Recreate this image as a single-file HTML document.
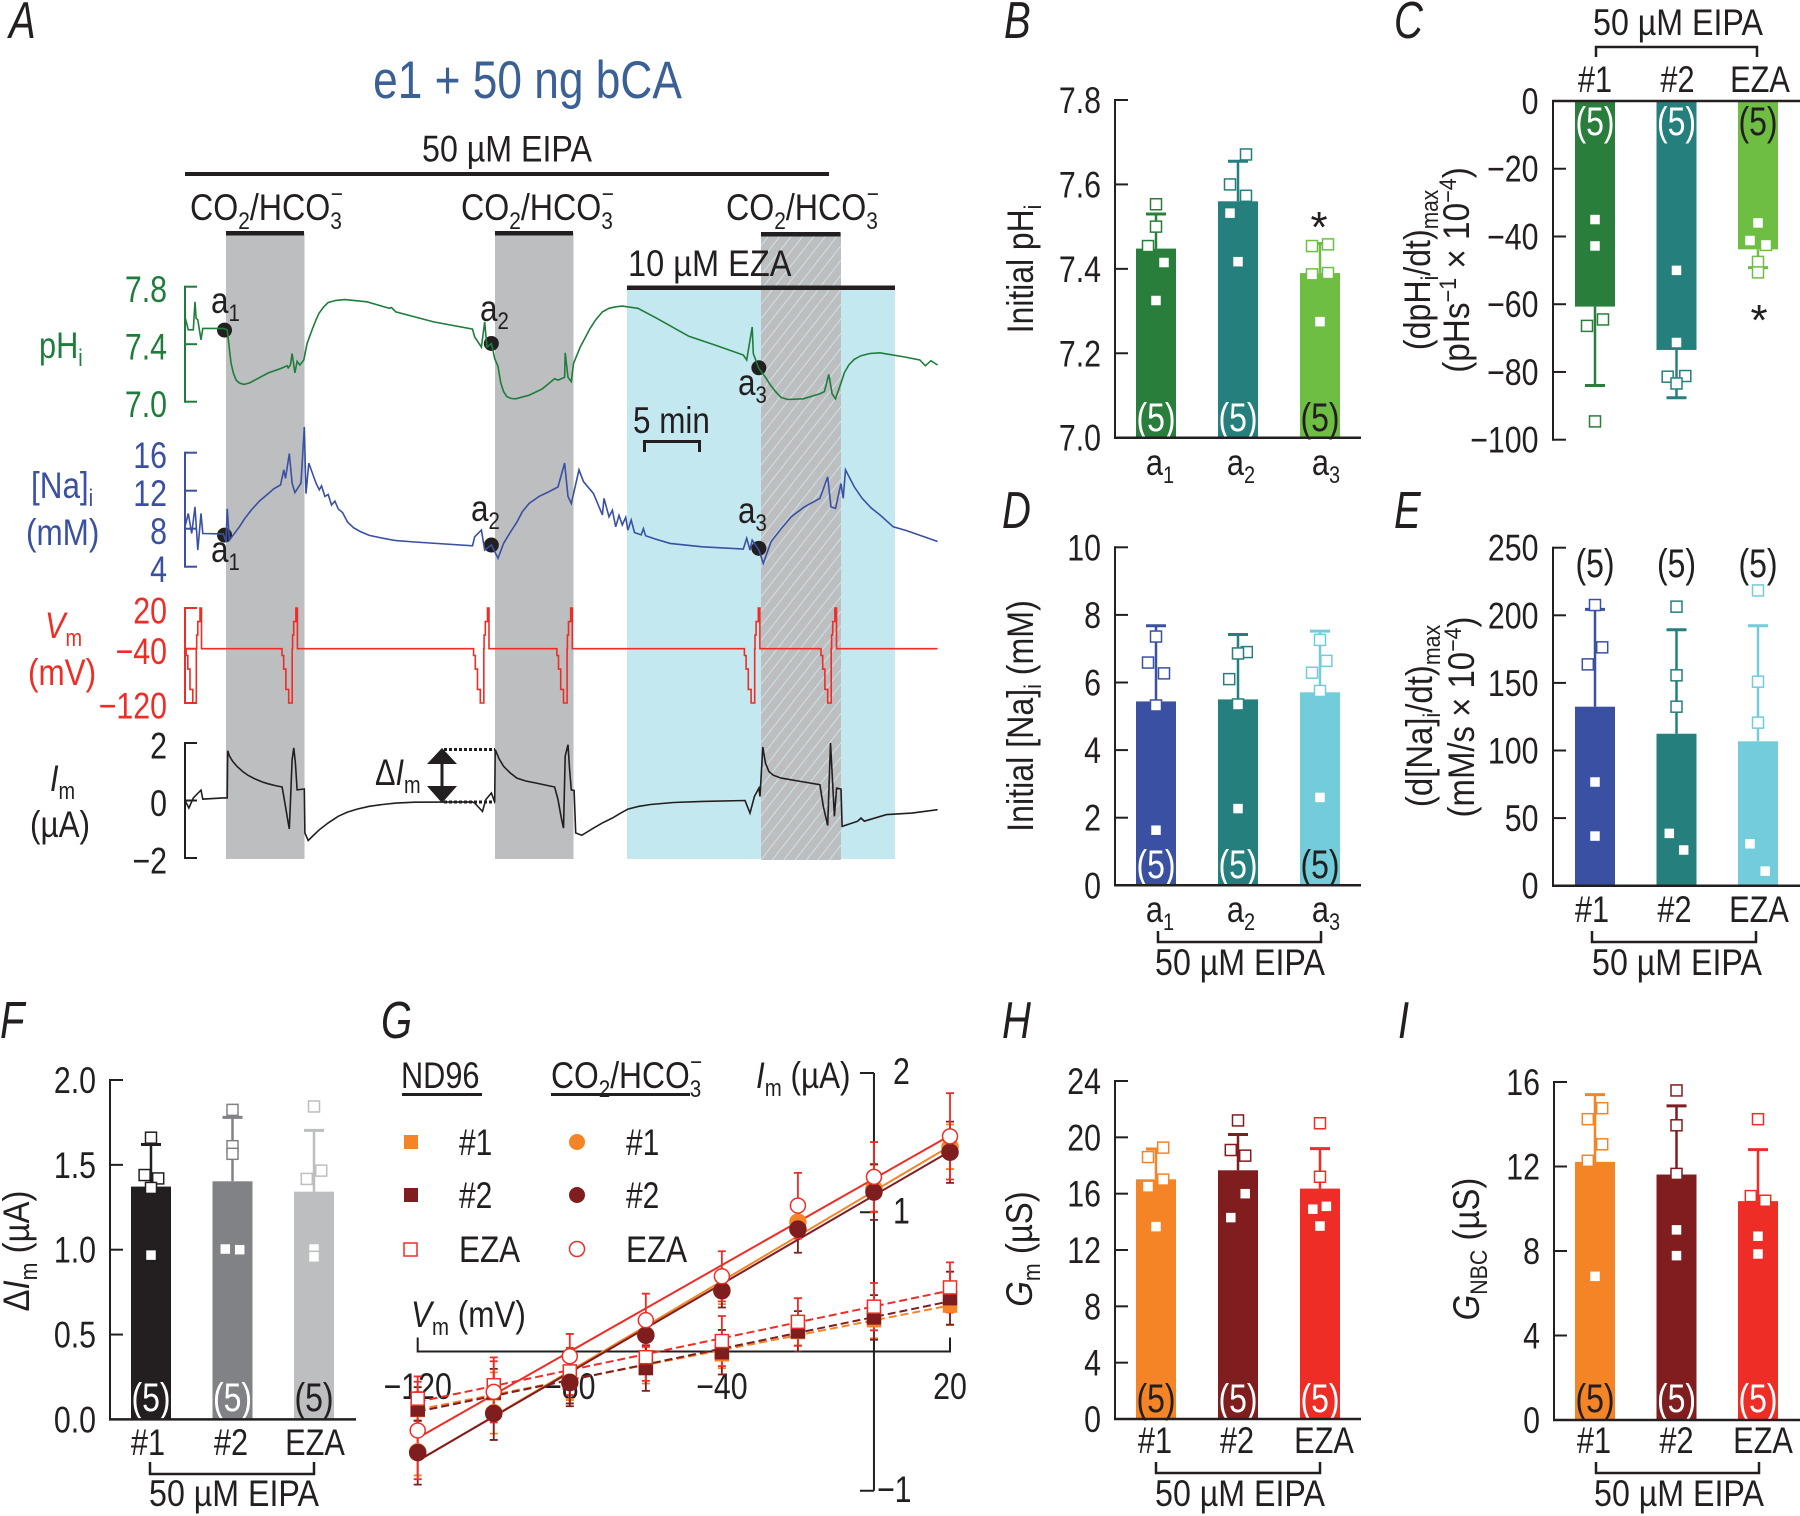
<!DOCTYPE html>
<html lang="en">
<head>
<meta charset="utf-8">
<title>e1 + 50 ng bCA</title>
<style>
html,body{margin:0;padding:0;background:#fff;}
svg{display:block;}
text{font-family:"Liberation Sans",sans-serif;font-size:37px;fill:#231f20;}
.pl{font-size:52px;font-style:italic;}
.s{font-size:24px;}
.g{fill:#1f7d3c;}
.b{fill:#3a50a2;}
.r{fill:#ee2d27;}
</style>
</head>
<body>
<svg id="fig" xmlns="http://www.w3.org/2000/svg" width="1800" height="1516" viewBox="0 0 1800 1516">
<defs>
<pattern id="hatch" patternUnits="userSpaceOnUse" width="9" height="14" patternTransform="rotate(38)">
<rect width="9" height="14" fill="#bcbec0"/>
<line x1="4" y1="0" x2="4" y2="14" stroke="#cfe1e7" stroke-width="1"/>
</pattern>
</defs>
<rect width="1800" height="1516" fill="#fff"/>

<!-- panel letters -->
<text class="pl" transform="translate(9 38) scale(.77 1)">A</text>
<text class="pl" transform="translate(1004 38) scale(.77 1)">B</text>
<text class="pl" transform="translate(1394 38) scale(.77 1)">C</text>
<text class="pl" transform="translate(1002 528) scale(.77 1)">D</text>
<text class="pl" transform="translate(1394 528) scale(.77 1)">E</text>
<text class="pl" transform="translate(0 1038) scale(.77 1)">F</text>
<text class="pl" transform="translate(381 1038) scale(.77 1)">G</text>
<text class="pl" transform="translate(1002 1038) scale(.77 1)">H</text>
<text class="pl" transform="translate(1398 1038) scale(.77 1)">I</text>

<!-- panel A background -->
<g>
<rect x="226" y="233" width="78.5" height="626" fill="#bcbec0"/>
<rect x="495" y="233" width="78.5" height="626" fill="#bcbec0"/>
<rect x="627" y="287" width="268" height="572" fill="#c4e8ef"/>
<rect x="761" y="233" width="80" height="627" fill="url(#hatch)"/>
</g>
<text text-anchor="middle" style="font-size:53px;fill:#3a6095" transform="translate(527.5 98) scale(.835 1)">e1 + 50 ng bCA</text>
<text text-anchor="middle" transform="translate(507 161.5) scale(.87 1)">50 µM EIPA</text>
<rect x="185" y="172" width="644" height="4" fill="#231f20"/>
<g fill="#231f20">
<rect x="226" y="231" width="78" height="4.5"/>
<rect x="495" y="231" width="78" height="4.5"/>
<rect x="761" y="232" width="79.5" height="4.5"/>
<rect x="627" y="285.5" width="268" height="4.5"/>
</g>
<text transform="translate(190 220) scale(.87 1)">CO<tspan class="s" dy="9">2</tspan><tspan dy="-9">/HCO</tspan><tspan class="s" dy="9">3</tspan><tspan class="s" dx="-13" dy="-27">−</tspan></text>
<text transform="translate(461 220) scale(.87 1)">CO<tspan class="s" dy="9">2</tspan><tspan dy="-9">/HCO</tspan><tspan class="s" dy="9">3</tspan><tspan class="s" dx="-13" dy="-27">−</tspan></text>
<text transform="translate(726 220) scale(.87 1)">CO<tspan class="s" dy="9">2</tspan><tspan dy="-9">/HCO</tspan><tspan class="s" dy="9">3</tspan><tspan class="s" dx="-13" dy="-27">−</tspan></text>
<text transform="translate(628 276) scale(.88 1)">10 µM EZA</text>

<text class="g" transform="translate(39 358) scale(.83 1)">pH<tspan class="s g" dy="8">i</tspan></text>
<text class="b" transform="translate(31 498) scale(.85 1)">[Na]<tspan class="s b" dy="8">i</tspan></text>
<text class="b" transform="translate(26 545) scale(.85 1)">(mM)</text>
<text class="r" transform="translate(45 638) scale(.83 1)"><tspan font-style="italic">V</tspan><tspan class="s r" dy="8">m</tspan></text>
<text class="r" transform="translate(28 685) scale(.85 1)">(mV)</text>
<text transform="translate(50 791) scale(.83 1)"><tspan font-style="italic">I</tspan><tspan class="s" dy="8">m</tspan></text>
<text transform="translate(30 837) scale(.85 1)">(µA)</text>

<g id="panelA"></g>

<text transform="translate(211 313) scale(.85 1)">a<tspan class="s" dy="8">1</tspan></text>
<text transform="translate(480 321) scale(.85 1)">a<tspan class="s" dy="8">2</tspan></text>
<text transform="translate(738 395) scale(.85 1)">a<tspan class="s" dy="8">3</tspan></text>
<text transform="translate(211 562) scale(.85 1)">a<tspan class="s" dy="8">1</tspan></text>
<text transform="translate(471 521) scale(.85 1)">a<tspan class="s" dy="8">2</tspan></text>
<text transform="translate(738 523) scale(.85 1)">a<tspan class="s" dy="8">3</tspan></text>

<text transform="translate(633 433) scale(.85 1)">5 min</text>
<path d="M644.500 452V441.500H699.500V452" fill="none" stroke="#231f20" stroke-width="3"/>

<g>
<text transform="translate(375 785) scale(.83 1)">Δ<tspan font-style="italic">I</tspan><tspan class="s" dy="8">m</tspan></text>
<line x1="442" y1="760" x2="442" y2="790" stroke="#231f20" stroke-width="3"/>
<polygon points="442,748 457,764 427,764" fill="#231f20"/>
<polygon points="442,803 457,786 427,786" fill="#231f20"/>
<line x1="444" y1="749.500" x2="495" y2="749.500" stroke="#231f20" stroke-width="3" stroke-dasharray="3 2"/>
<line x1="444" y1="802" x2="495" y2="802" stroke="#231f20" stroke-width="3" stroke-dasharray="3 2"/>
</g>

<!-- bar chart groups -->
<g id="panelB"></g>
<g id="panelC"></g>
<g id="panelD"></g>
<g id="panelE"></g>
<g id="panelF"></g>
<g id="panelG"></g>
<g id="panelH"></g>
<g id="panelI"></g>

<!-- y titles -->
<text text-anchor="middle" transform="translate(1033 269) rotate(-90) scale(.86 1)">Initial pH<tspan class="s" dy="8">i</tspan></text>
<text text-anchor="middle" transform="translate(1430 270) rotate(-90) scale(.87 1)">(dpH<tspan class="s" dy="8">i</tspan><tspan dy="-8">/dt)</tspan><tspan class="s" dy="8">max</tspan></text>
<text text-anchor="middle" transform="translate(1469 270) rotate(-90) scale(.9 1)">(pHs<tspan class="s" dy="-13">−1</tspan><tspan dy="13"> × 10</tspan><tspan class="s" dy="-13">−4</tspan><tspan dy="13">)</tspan></text>
<text text-anchor="middle" transform="translate(1033 716) rotate(-90) scale(.87 1)">Initial [Na]<tspan class="s" dy="8">i</tspan><tspan dy="-8"> (mM)</tspan></text>
<text text-anchor="middle" transform="translate(1432 716) rotate(-90) scale(.89 1)">(d[Na]<tspan class="s" dy="8">i</tspan><tspan dy="-8">/dt)</tspan><tspan class="s" dy="8">max</tspan></text>
<text text-anchor="middle" transform="translate(1474 717) rotate(-90) scale(.89 1)">(mM/s × 10<tspan class="s" dy="-13">−4</tspan><tspan dy="13">)</tspan></text>
<text text-anchor="middle" transform="translate(29 1251) rotate(-90) scale(.89 1)">Δ<tspan font-style="italic">I</tspan><tspan class="s" dy="8">m</tspan><tspan dy="-8"> (µA)</tspan></text>
<text text-anchor="middle" transform="translate(1032 1249) rotate(-90) scale(.89 1)"><tspan font-style="italic">G</tspan><tspan class="s" dy="8">m</tspan><tspan dy="-8"> (µS)</tspan></text>
<text text-anchor="middle" transform="translate(1479 1249) rotate(-90) scale(.89 1)"><tspan font-style="italic">G</tspan><tspan class="s" dy="8">NBC</tspan><tspan dy="-8"> (µS)</tspan></text>

<!-- brackets and EIPA labels -->
<g fill="none" stroke="#231f20" stroke-width="2.500">
<path d="M1596 57V47H1757V57"/>
<path d="M1158 931V942H1321V931"/>
<path d="M1592 931V942H1756V931"/>
<path d="M150 1462V1474H314V1462"/>
<path d="M1156 1462V1473H1320V1462"/>
<path d="M1596 1462V1473H1759V1462"/>
</g>
<text text-anchor="middle" transform="translate(1678 35) scale(.87 1)">50 µM EIPA</text>
<text text-anchor="middle" transform="translate(1240 975) scale(.87 1)">50 µM EIPA</text>
<text text-anchor="middle" transform="translate(1677 975) scale(.87 1)">50 µM EIPA</text>
<text text-anchor="middle" transform="translate(234 1506) scale(.87 1)">50 µM EIPA</text>
<text text-anchor="middle" transform="translate(1240 1506) scale(.87 1)">50 µM EIPA</text>
<text text-anchor="middle" transform="translate(1679 1506) scale(.87 1)">50 µM EIPA</text>
<text text-anchor="middle" style="font-size:44px" transform="translate(1319 242)">*</text>
<text text-anchor="middle" style="font-size:44px" transform="translate(1759 335)">*</text>

<!-- G legend and titles -->
<g>
<text transform="translate(401 1088) scale(.83 1)">ND96</text>
<rect x="402" y="1093" width="80" height="3" fill="#231f20"/>
<text transform="translate(551 1088) scale(.86 1)">CO<tspan class="s" dy="9">2</tspan><tspan dy="-9">/HCO</tspan><tspan class="s" dy="9">3</tspan><tspan class="s" dx="-13" dy="-27">−</tspan></text>
<rect x="551" y="1093" width="139" height="3" fill="#231f20"/>
<rect x="404" y="1135" width="14" height="14" fill="#f58427"/>
<rect x="404" y="1188" width="14" height="14" fill="#7f1d1f"/>
<rect x="404" y="1243" width="13" height="13" fill="#fff" stroke="#ee2d27" stroke-width="1.500"/>
<circle cx="577" cy="1142" r="8" fill="#f58427"/>
<circle cx="577" cy="1195" r="8" fill="#7f1d1f"/>
<circle cx="577" cy="1249" r="7.500" fill="#fff" stroke="#ee2d27" stroke-width="1.500"/>
<text transform="translate(459 1155) scale(.81 1)">#1</text>
<text transform="translate(459 1208) scale(.81 1)">#2</text>
<text transform="translate(459 1262) scale(.85 1)">EZA</text>
<text transform="translate(626 1155) scale(.81 1)">#1</text>
<text transform="translate(626 1208) scale(.81 1)">#2</text>
<text transform="translate(626 1262) scale(.85 1)">EZA</text>
</g>
<text transform="translate(756 1088) scale(.85 1)"><tspan font-style="italic">I</tspan><tspan class="s" dy="8">m</tspan><tspan dy="-8"> (µA)</tspan></text>
<text transform="translate(411 1327) scale(.85 1)"><tspan font-style="italic">V</tspan><tspan class="s" dy="8">m</tspan><tspan dy="-8"> (mV)</tspan></text>
</svg>

<script>
const phTrace = [[0,7.59],[.2,7.53],[.3,7.5],[.75,7.5],[.9,7.695],[1,7.58],[1.15,7.57],[1.44,7.43],[1.6,7.51],[3.45,7.51],[3.8,7.5],[4.14,7.27],[4.35,7.2],[4.6,7.15],[4.9,7.13],[5.3,7.12],[5.8,7.13],[6.3,7.15],[7.5,7.2],[8.6,7.23],[9.2,7.25],[9.3,7.235],[9.5,7.255],[9.65,7.335],[9.9,7.2],[10.1,7.28],[10.35,7.255],[10.7,7.29],[11,7.405],[11.5,7.51],[11.8,7.57],[12.07,7.615],[12.5,7.66],[12.9,7.69],[13.6,7.705],[14.4,7.71],[16.4,7.695],[18.4,7.65],[18.6,7.655],[19,7.625],[22.4,7.555],[25.9,7.505],[26.1,7.45],[26.7,7.38],[27,7.555],[27.2,7.38],[27.6,7.405],[27.9,7.3],[28.2,7.245],[28.45,7.13],[28.7,7.07],[29,7.035],[29.4,7.022],[29.8,7.02],[31,7.045],[32.2,7.09],[33.3,7.16],[33.6,7.15],[34.2,7.17],[34.25,7.34],[34.5,7.17],[34.8,7.14],[35,7.265],[35.6,7.38],[36.5,7.51],[37,7.57],[37.6,7.625],[38.2,7.65],[38.8,7.66],[39.4,7.665],[40.8,7.65],[42.5,7.58],[45.4,7.455],[47.7,7.395],[50.3,7.325],[50.6,7.29],[51.1,7.52],[51.2,7.335],[51.7,7.23],[52.3,7.17],[52.7,7.12],[53.2,7.07],[53.7,7.03],[54.3,7.015],[55.7,7.02],[57.2,7.055],[57.6,7.07],[58,7.19],[58.3,7.055],[58.6,7.02],[59.1,7.13],[59.4,7.2],[59.8,7.255],[60.3,7.295],[60.9,7.32],[61.7,7.335],[62.6,7.34],[64.9,7.31],[66.2,7.29],[66.7,7.25],[67.2,7.285],[67.8,7.255]];
const naTrace = [[0,8.2],[.3,9.6],[.6,7.5],[.9,10.3],[1.15,5.75],[1.44,9.6],[1.6,7.5],[3.45,7.45],[3.7,6.6],[3.8,10.1],[4,6.8],[4.9,8.2],[5.4,9.1],[6,10],[6.7,10.9],[7.5,11.7],[8,12.2],[8.6,12.6],[8.9,14.2],[9.05,13.3],[9.4,15.9],[9.65,12.8],[9.9,11.8],[10.45,12.8],[10.75,18.7],[10.9,11.7],[11.15,14.9],[11.8,12.8],[12.1,12.1],[12.3,12.5],[12.6,11.4],[12.9,11.6],[13.2,10.5],[13.5,10.9],[13.8,10.1],[14.2,9.7],[14.65,8.7],[15.2,8.1],[15.8,7.7],[16.6,7.3],[17.8,7],[19,6.75],[20.7,6.6],[25.9,6.2],[26.1,7.15],[26.7,7.85],[27,5.75],[27.6,6.3],[28.2,4.9],[28.7,6.45],[29.3,7.6],[29.9,8.7],[30.4,9.8],[31,10.65],[31.9,11.4],[32.8,11.9],[33.6,12.4],[34.2,14.9],[34.5,11.4],[34.8,10.65],[35.5,14.2],[35.9,12.95],[36.8,11.7],[37.6,9.45],[37.75,11.2],[38.2,9.25],[38.5,9.95],[38.8,8.2],[39.1,9.4],[39.4,8.4],[39.7,9.2],[39.9,7.85],[40.2,8.9],[40.5,7.6],[41.1,7.35],[41.3,8],[41.5,7.25],[42.4,6.9],[43.7,6.45],[46.6,6.1],[50.3,5.85],[50.6,7],[50.9,5.75],[51.1,6.8],[51.7,5.75],[52.1,4.35],[52.8,6.65],[53.7,8],[54.6,9.25],[55.8,10.3],[57.2,11.2],[57.9,13.45],[58.2,10.3],[58.6,10.15],[59.1,12.75],[59.3,11.2],[59.5,14.2],[60.3,12.4],[61,11.2],[61.8,10.2],[62.6,9.45],[63.8,8.2],[65,7.8],[66.1,7.35],[67.8,6.65]];
const imTrace = [[0,0],[.35,-.26],[.75,.09],[1.44,.36],[1.6,.05],[3.45,.09],[3.8,.09],[3.85,1.73],[4,1.55],[4.3,1.36],[4.7,1.18],[5.2,1.01],[5.7,.87],[6.3,.75],[7,.64],[7.5,.58],[8.1,.52],[8.75,.47],[8.9,.14],[9.2,-.55],[9.4,-.99],[9.5,-.09],[9.65,1.42],[9.8,1.83],[9.95,1.3],[10.1,.37],[10.75,.4],[10.8,-1.13],[11.1,-1.39],[11.6,-1.2],[12.1,-1.02],[12.9,-.78],[13.8,-.55],[14.6,-.41],[15.5,-.3],[16.6,-.2],[17.8,-.14],[19,-.09],[20.7,-.06],[25.9,-.05],[26.1,-.09],[26.8,-.38],[27.1,.03],[27.6,.26],[27.9,-.06],[27.95,1.77],[28.3,1.45],[28.7,1.19],[29.3,.96],[29.9,.78],[30.7,.68],[31.6,.61],[33.3,.47],[33.6,.03],[33.9,-.61],[34.1,-.96],[34.25,1.54],[34.5,1.94],[34.65,1.07],[34.8,.37],[35.05,.35],[35.2,-1.13],[35.75,-1.21],[36.8,-.96],[37.6,-.78],[38.5,-.61],[39.2,-.45],[39.9,-.3],[40.9,-.2],[41.95,-.14],[44,-.07],[46.6,-.03],[50.45,0],[50.9,-.44],[51.3,.14],[51.7,.43],[51.8,.14],[52.05,1.86],[52.3,1.3],[52.6,1.01],[53,.88],[53.7,.78],[55.5,.66],[57.2,.55],[57.5,-.2],[57.9,-.87],[58.15,2],[58.5,-.55],[58.7,.43],[59.1,.4],[59.2,-.9],[60.6,-.72],[60.9,-.61],[61.2,-.72],[63.2,-.49],[65.5,-.44],[67.8,-.32]];
const vmBaseline = -40;
const vmEndTime = 67.8;
const vmPulseStarts = [.1,8.74,26,33.5,50.4,57.3];
const vmStepOffsets = [0,.15,.35,.6,.75,.92,.95,1.05,1.25,1.39];
const vmStepLevels = [-50,-70,-100,-120,-120,-40,-20,0,20,-40];
const phMarkerTimes = [3.56,27.6,51.7];
const phMarkerValues = [7.498,7.405,7.236];
const naMarkerTimes = [3.56,27.6,51.7];
const naMarkerValues = [7.33,6.28,5.93];
const phTicks = [7.8,7.4,7.0];
const phTickLabels = ['7.8','7.4','7.0'];
const naTicks = [16,12,8,4];
const naTickLabels = ['16','12','8','4'];
const vmTicks = [20,-40,-120];
const vmTickLabels = ['20','−40','−120'];
const imTicks = [2,0,-2];
const imTickLabels = ['2','0','−2'];

/* ---------- Panel B ---------- */
const bCategories = ['a1','a2','a3'];
const bMeans = [7.448,7.56,7.39];
const bErrors = [.082,.095,.07];
const bPoints = [[7.553,7.5,7.454,7.415,7.325],[7.671,7.6,7.573,7.532,7.417],[7.454,7.458,7.387,7.39,7.275]];
const bJitter = [[0,0,-1,1,0],[1,-1,1,-1,0],[-1,1,-1,1,0]];
const bTicks = [7.0,7.2,7.4,7.6,7.8];
const bTickLabels = ['7.0','7.2','7.4','7.6','7.8'];
const bCounts = ['(5)','(5)','(5)'];

/* ---------- Panel C ---------- */
const cCategories = ['#1','#2','EZA'];
const cMeans = [-60.7,-73.5,-43.8];
const cErrors = [23.3,14.1,5.4];
const cPoints = [[-35,-42.8,-64.5,-66.4,-94.6],[-50,-71.3,-81.4,-81.2,-83.4],[-36,-41.2,-42.5,-47.5,-50.6]];
const cJitter = [[0,0,1,-1,0],[0,0,-1.1,1.1,0],[0,-1,1,0,0]];
const cTicks = [0,-20,-40,-60,-80,-100];
const cTickLabels = ['0','−20','−40','−60','−80','−100'];
const cCounts = ['(5)','(5)','(5)'];

/* ---------- Panel D ---------- */
const dCategories = ['a1','a2','a3'];
const dMeans = [5.44,5.5,5.71];
const dErrors = [2.24,1.92,1.81];
const dPoints = [[7.36,6.59,6.27,5.32,1.63],[6.9,6.86,6.1,5.35,2.27],[7.26,6.64,6.29,5.75,2.6]];
const dJitter = [[0,-1,1,0,0],[1.1,0,-1.1,0,0],[0,.8,-1,0,0]];
const dTicks = [0,2,4,6,8,10];
const dTickLabels = ['0','2','4','6','8','10'];
const dCounts = ['(5)','(5)','(5)'];

/* ---------- Panel E ---------- */
const eCategories = ['#1','#2','EZA'];
const eMeans = [132.4,112.4,106.8];
const eErrors = [72,76.9,85.5];
const ePoints = [[207.6,176.3,163.7,76.7,36.7],[206.4,155.6,132.4,38.7,26.4],[218.4,150.9,120.6,31,10.8]];
const eJitter = [[0,.9,-.9,0,0],[0,0,0,-.9,.9],[0,0,0,-1,.9]];
const eTicks = [0,50,100,150,200,250];
const eTickLabels = ['0','50','100','150','200','250'];
const eCounts = ['(5)','(5)','(5)'];

/* ---------- Panel F ---------- */
const fCategories = ['#1','#2','EZA'];
const fMeans = [1.372,1.403,1.342];
const fErrors = [.248,.377,.361];
const fPoints = [[1.66,1.44,1.42,1.364,.968],[1.824,1.61,1.565,1.004,1],[1.844,1.466,1.417,1.004,.958]];
const fJitter = [[0,-.8,.9,0,0],[0,0,0,-.9,.9],[0,.9,-.9,0,0]];
const fTicks = [0,.5,1,1.5,2];
const fTickLabels = ['0.0','0.5','1.0','1.5','2.0'];
const fCounts = ['(5)','(5)','(5)'];

/* ---------- Panel G ---------- */
const gVoltages = [-120,-100,-80,-60,-40,-20,0,20];
const gNd1 = [-.42,-.3,-.2,-.1,-.02,.14,.225,.33];
const gNd1Err = [.13,.15,.15,.13,.1,.1,.13,.14];
const gNd2 = [-.416,-.295,-.223,-.119,-.005,.145,.245,.383];
const gNd2Err = [.16,.17,.17,.164,.16,.145,.16,.19];
const gNdEza = [-.339,-.242,-.143,-.041,.075,.213,.322,.46];
const gNdEzaErr = [.16,.2,.17,.17,.18,.17,.17,.18];
const gCo1 = [-.72,-.44,-.22,.12,.44,.93,1.17,1.47];
const gCo1Err = [.17,.15,.12,.12,.1,.12,.17,.16];
const gCo2 = [-.726,-.445,-.223,.116,.436,.879,1.145,1.431];
const gCo2Err = [.23,.19,.15,.15,.12,.17,.2,.22];
const gCoEza = [-.567,-.29,-.034,.225,.54,1.048,1.254,1.545];
const gCoEzaErr = [.35,.22,.16,.19,.18,.235,.25,.31];
const gXTicks = [-120,-80,-40,20];
const gXTickLabels = ['−120','−80','−40','20'];
const gYTicks = [2,1,-1];
const gYTickLabels = ['2','1','−1'];

/* ---------- Panel H ---------- */
const hCategories = ['#1','#2','EZA'];
const hMeans = [17.02,17.66,16.36];
const hErrors = [2.15,2.54,2.84];
const hPoints = [[19.27,18.6,17,16.5,13.66],[21.2,19.1,18.7,16,14.3],[21,17.2,15.1,14.9,13.7]];
const hJitter = [[.9,-1,.9,-1,0],[0,-.9,.9,.9,-.9],[0,0,.8,-.9,0]];
const hTicks = [0,4,8,12,16,20,24];
const hTickLabels = ['0','4','8','12','16','20','24'];
const hCounts = ['(5)','(5)','(5)'];

/* ---------- Panel I ---------- */
const iCategories = ['#1','#2','EZA'];
const iMeans = [12.22,11.62,10.36];
const iErrors = [3.18,3.25,2.44];
const iPoints = [[14.76,14.24,13.05,12.27,6.8],[15.6,13.95,11.65,9,7.78],[14.24,10.6,10.38,8.7,7.86]];
const iJitter = [[.9,-.9,.9,-.9,0],[0,0,0,0,0],[0,-.9,.9,0,0]];
const iTicks = [0,4,8,12,16];
const iTickLabels = ['0','4','8','12','16'];
const iCounts = ['(5)','(5)','(5)'];

const NS = 'http://www.w3.org/2000/svg';
const INK = '#231f20';
function mk(parent, tag, attrs) {
  const el = document.createElementNS(NS, tag);
  for (const k in attrs) el.setAttribute(k, attrs[k]);
  parent.appendChild(el);
  return el;
}
function linear(v0, p0, v1, p1) {
  return v => p0 + (v - v0) * (p1 - p0) / (v1 - v0);
}

/* ---------- draw panel A ---------- */
(function drawA() {
  const g = document.getElementById('panelA');
  const xT = linear(0, 185, 10, 296);
  const yPh = linear(7, 401.7, 7.8, 286.7);
  const yNa = linear(4, 566.7, 16, 452.7);
  const yVm = linear(-120, 703, 20, 608);
  const yIm = linear(-2, 858, 2, 743);

  function bracket(name, ticks, labels, scale, color) {
    const ys = ticks.map(scale);
    const top = Math.min.apply(null, ys), bot = Math.max.apply(null, ys);
    const axis = mk(g, 'line', {x1:185, y1:top - 1, x2:185, y2:bot + 1, stroke:color, 'stroke-width':2});
    
    
    ticks.forEach((t, i) => {
      const tick = mk(g, 'line', {x1:185, y1:scale(t), x2:197, y2:scale(t), stroke:color, 'stroke-width':2});
      
      
      const lab = mk(g, 'text', {'text-anchor':'end', transform:'translate(167 ' + (scale(t) + 15.5) + ') scale(.82 1)', style:'fill:' + color});
      lab.textContent = labels[i];
      
      
    });
  }
  bracket('ph', phTicks, phTickLabels, yPh, '#1f7d3c');
  bracket('na', naTicks, naTickLabels, yNa, '#3a50a2');
  bracket('vm', vmTicks, vmTickLabels, yVm, '#ee2d27');
  bracket('im', imTicks, imTickLabels, yIm, INK);

  phMarkerTimes.forEach((t, i) => {
    const c = mk(g, 'circle', {cx:xT(t), cy:yPh(phMarkerValues[i]), r:7.5, fill:INK});
    
    
  });
  naMarkerTimes.forEach((t, i) => {
    const c = mk(g, 'circle', {cx:xT(t), cy:yNa(naMarkerValues[i]), r:7.5, fill:INK});
    
    
  });

  function pathOf(pts, scale) {
    return pts.map((p, i) => (i ? 'L' : 'M') + xT(p[0]).toFixed(1) + ' ' + scale(p[1]).toFixed(1)).join('');
  }
  const ph = mk(g, 'path', {d:pathOf(phTrace, yPh), fill:'none', stroke:'#1f7d3c', 'stroke-width':1.6});
  
  
  const na = mk(g, 'path', {d:pathOf(naTrace, yNa), fill:'none', stroke:'#3a50a2', 'stroke-width':1.6});
  
  

  const vmPts = [];
  vmPulseStarts.forEach(start => {
    vmStepOffsets.forEach((off, i) => {
      const prev = vmPts.length ? vmPts[vmPts.length - 1][1] : vmBaseline;
      vmPts.push([start + off, i === 0 ? vmBaseline : prev]);
      vmPts.push([start + off, vmStepLevels[i]]);
    });
  });
  vmPts.push([vmEndTime, vmBaseline]);
  const vm = mk(g, 'path', {d:pathOf(vmPts, yVm), fill:'none', stroke:'#ee2d27', 'stroke-width':1.6});
  
  

  const im = mk(g, 'path', {d:pathOf(imTrace, yIm), fill:'none', stroke:INK, 'stroke-width':1.6});
  
  
})();

/* ---------- generic bar panel ---------- */
function barPanel(id, o) {
  const g = document.getElementById(id);
  const y = linear(o.vLow, o.yLow, o.vHigh, o.yHigh);
  const baseY = y(o.base);
  const axis = mk(g, 'line', {x1:o.axisX, y1:y(o.vHigh) - 1, x2:o.axisX, y2:y(o.vLow) + 1, stroke:INK, 'stroke-width':2});
  
  
  o.ticks.forEach((t, i) => {
    const tick = mk(g, 'line', {x1:o.axisX, y1:y(t), x2:o.axisX + 13, y2:y(t), stroke:INK, 'stroke-width':2});
    
    
    const lab = mk(g, 'text', {'text-anchor':'end', transform:'translate(' + o.labelRight + ' ' + (y(t) + 13) + ') scale(.82 1)'});
    lab.textContent = o.tickLabels[i];
    
    
  });
  o.means.forEach((m, i) => {
    const cx = o.centers[i], col = o.colors[i];
    const top = Math.min(y(m), baseY), h = Math.abs(y(m) - baseY);
    const bar = mk(g, 'rect', {x:cx - o.barW / 2, y:top, width:o.barW, height:h, fill:col});
    
    
    const dir = m >= o.base ? 1 : -1;
    const tip = y(m + dir * o.errors[i]);
    const stem = mk(g, 'line', {x1:cx, y1:y(m), x2:cx, y2:tip, stroke:col, 'stroke-width':2.5});
    
    
    const cap = mk(g, 'line', {x1:cx - 10, y1:tip, x2:cx + 10, y2:tip, stroke:col, 'stroke-width':3});
    
    
    o.points[i].forEach((p, k) => {
      const sq = mk(g, 'rect', {x:cx + o.jitter[i][k] * 8 - 5.5, y:y(p) - 5.5, width:11, height:11, fill:'#fff', stroke:col, 'stroke-width':1.5});
      
      
    });
    const nCol = (o.countColors && o.countColors[i]) || INK;
    const n = mk(g, 'text', {'text-anchor':'middle', transform:'translate(' + cx + ' ' + o.countY + ') scale(.8 1)', style:'font-size:40px;fill:' + nCol});
    n.textContent = o.counts[i];
    
    
    const catStr = o.categories[i];
    const cat = mk(g, 'text', {'text-anchor':'middle', transform:'translate(' + (cx + o.catDx[i]) + ' ' + o.catY + ') scale(.83 1)'});
    
    
    if (/^a\d$/.test(catStr)) {
      cat.appendChild(document.createTextNode('a'));
      const sub = mk(cat, 'tspan', {'class':'s', dy:8});
      sub.textContent = catStr.charAt(1);
    } else {
      cat.textContent = catStr;
    }
  });
  const baseline = mk(g, 'line', {x1:o.axisX - 1, y1:baseY, x2:o.lineEnd, y2:baseY, stroke:INK, 'stroke-width':2.5});
  
  
}

const LEFT_COL = [1156,1238,1320];
const RIGHT_COL = [1595,1676.5,1758];
const WHITE2DARK = ['#fff','#fff',INK];

barPanel('panelB', {categories:bCategories, means:bMeans, errors:bErrors, points:bPoints, jitter:bJitter, ticks:bTicks, tickLabels:bTickLabels, counts:bCounts,
  vLow:7, yLow:437.7, vHigh:7.8, yHigh:100, base:7, axisX:1115, lineEnd:1361, labelRight:1101, centers:LEFT_COL, barW:40,
  colors:['#2a7e3c','#247f7d','#6fbe44'], countColors:WHITE2DARK, countY:431, catDx:[4,3,6], catY:475});
barPanel('panelC', {categories:cCategories, means:cMeans, errors:cErrors, points:cPoints, jitter:cJitter, ticks:cTicks, tickLabels:cTickLabels, counts:cCounts,
  vLow:-100, yLow:439.7, vHigh:0, yHigh:101, base:0, axisX:1553, lineEnd:1800, labelRight:1538.5, centers:RIGHT_COL, barW:40,
  colors:['#2a7e3c','#247f7d','#6fbe44'], countColors:WHITE2DARK, countY:135, catDx:[0,1,2], catY:92});
barPanel('panelD', {categories:dCategories, means:dMeans, errors:dErrors, points:dPoints, jitter:dJitter, ticks:dTicks, tickLabels:dTickLabels, counts:dCounts,
  vLow:0, yLow:885.3, vHigh:10, yHigh:547.3, base:0, axisX:1115, lineEnd:1361, labelRight:1101, centers:LEFT_COL, barW:40,
  colors:['#3a50a2','#247f7d','#73ccd9'], countColors:WHITE2DARK, countY:878, catDx:[4,3,6], catY:922});
barPanel('panelE', {categories:eCategories, means:eMeans, errors:eErrors, points:ePoints, jitter:eJitter, ticks:eTicks, tickLabels:eTickLabels, counts:eCounts,
  vLow:0, yLow:885.7, vHigh:250, yHigh:547.7, base:0, axisX:1553, lineEnd:1800, labelRight:1538.5, centers:RIGHT_COL, barW:40,
  colors:['#3a50a2','#247f7d','#73ccd9'], countColors:[INK,INK,INK], countY:577, catDx:[-3,-2,1], catY:922});
barPanel('panelF', {categories:fCategories, means:fMeans, errors:fErrors, points:fPoints, jitter:fJitter, ticks:fTicks, tickLabels:fTickLabels, counts:fCounts,
  vLow:0, yLow:1419.4, vHigh:2, yHigh:1080, base:0, axisX:110, lineEnd:356, labelRight:96, centers:[151,232.5,314], barW:40,
  colors:[INK,'#808285','#bcbec0'], countColors:WHITE2DARK, countY:1411, catDx:[-3,-1.5,1], catY:1455});
barPanel('panelH', {categories:hCategories, means:hMeans, errors:hErrors, points:hPoints, jitter:hJitter, ticks:hTicks, tickLabels:hTickLabels, counts:hCounts,
  vLow:0, yLow:1419, vHigh:24, yHigh:1081, base:0, axisX:1115, lineEnd:1361, labelRight:1101, centers:LEFT_COL, barW:40,
  colors:['#f58427','#7f1d1f','#ee2d27'], countColors:[INK,'#fff','#fff'], countY:1412, catDx:[-1,-1,4], catY:1453});
barPanel('panelI', {categories:iCategories, means:iMeans, errors:iErrors, points:iPoints, jitter:iJitter, ticks:iTicks, tickLabels:iTickLabels, counts:iCounts,
  vLow:0, yLow:1420, vHigh:16, yHigh:1082, base:0, axisX:1554, lineEnd:1800, labelRight:1540, centers:RIGHT_COL, barW:40,
  colors:['#f58427','#7f1d1f','#ee2d27'], countColors:[INK,'#fff','#fff'], countY:1412, catDx:[-1,0,5], catY:1453});

/* ---------- panel G ---------- */
(function drawG() {
  const g = document.getElementById('panelG');
  const xV = linear(-120, 417.7, 20, 950);
  const yI = linear(0, 1351.5, 2, 1073);
  const xAxis = mk(g, 'path', {d:'M' + xV(-120) + ' ' + (yI(0) - 14) + 'V' + yI(0) + 'H' + xV(20) + 'V' + (yI(0) - 14), fill:'none', stroke:INK, 'stroke-width':2});
  
  
  const yAxis = mk(g, 'line', {x1:xV(0), y1:yI(2), x2:xV(0), y2:yI(-1), stroke:INK, 'stroke-width':2});
  
  
  gXTicks.forEach((t, i) => {
    const lab = mk(g, 'text', {'text-anchor':'middle', transform:'translate(' + xV(t) + ' 1399) scale(.82 1)'});
    lab.textContent = gXTickLabels[i];
    
    
  });
  gYTicks.forEach((t, i) => {
    const tick = mk(g, 'line', {x1:xV(0) - 14, y1:yI(t), x2:xV(0), y2:yI(t), stroke:INK, 'stroke-width':2});
    
    
    const lab = mk(g, 'text', {transform:'translate(' + (xV(0) + (t < 0 ? 3 : 19)) + ' ' + (yI(t) + 11) + ') scale(.82 1)'});
    lab.textContent = gYTickLabels[i];
    
    
  });

  function fit(vals) {
    const n = gVoltages.length;
    const mx = gVoltages.reduce((a, b) => a + b, 0) / n;
    const my = vals.reduce((a, b) => a + b, 0) / n;
    let sxy = 0, sxx = 0;
    gVoltages.forEach((x, i) => { sxy += (x - mx) * (vals[i] - my); sxx += (x - mx) * (x - mx); });
    const m = sxy / sxx;
    return x => my + m * (x - mx);
  }
  const first = gVoltages[0], last = gVoltages[gVoltages.length - 1];
  function series(name, vals, errs, col, dashed) {
    const f = fit(vals);
    const ln = mk(g, 'line', {x1:xV(first), y1:yI(f(first)), x2:xV(last), y2:yI(f(last)), stroke:col, 'stroke-width':2, 'stroke-dasharray':dashed ? '8 4' : 'none'});
    
    
    vals.forEach((v, i) => {
      const x = xV(gVoltages[i]);
      const e = mk(g, 'path', {d:'M' + (x - 4) + ' ' + yI(v + errs[i]) + 'H' + (x + 4) + 'M' + x + ' ' + yI(v + errs[i]) + 'V' + yI(v - errs[i]) + 'M' + (x - 4) + ' ' + yI(v - errs[i]) + 'H' + (x + 4), fill:'none', stroke:col, 'stroke-width':1.8});
      
      
    });
  }
  function markers(name, vals, col, kind, filled) {
    vals.forEach((v, i) => {
      const x = xV(gVoltages[i]), y = yI(v);
      let m;
      if (kind === 'sq') {
        m = mk(g, 'rect', {x:x - 6.5, y:y - 6.5, width:13, height:13, fill:filled ? col : '#fff', stroke:col, 'stroke-width':1.5});
      } else {
        m = mk(g, 'circle', {cx:x, cy:y, r:filled ? 8 : 7.5, fill:filled ? col : '#fff', stroke:col, 'stroke-width':1.5});
      }
      
      
    });
  }
  const ORANGE = '#f58427', DARK = '#7f1d1f', RED = '#ee2d27';
  series('nd96-1', gNd1, gNd1Err, ORANGE, true);
  series('nd96-2', gNd2, gNd2Err, DARK, true);
  series('nd96-eza', gNdEza, gNdEzaErr, RED, true);
  series('co2-1', gCo1, gCo1Err, ORANGE, false);
  series('co2-2', gCo2, gCo2Err, DARK, false);
  series('co2-eza', gCoEza, gCoEzaErr, RED, false);
  markers('nd96-1', gNd1, ORANGE, 'sq', true);
  markers('nd96-2', gNd2, DARK, 'sq', true);
  markers('nd96-eza', gNdEza, RED, 'sq', false);
  markers('co2-1', gCo1, ORANGE, 'c', true);
  markers('co2-2', gCo2, DARK, 'c', true);
  markers('co2-eza', gCoEza, RED, 'c', false);
})();
</script>
</body>
</html>
